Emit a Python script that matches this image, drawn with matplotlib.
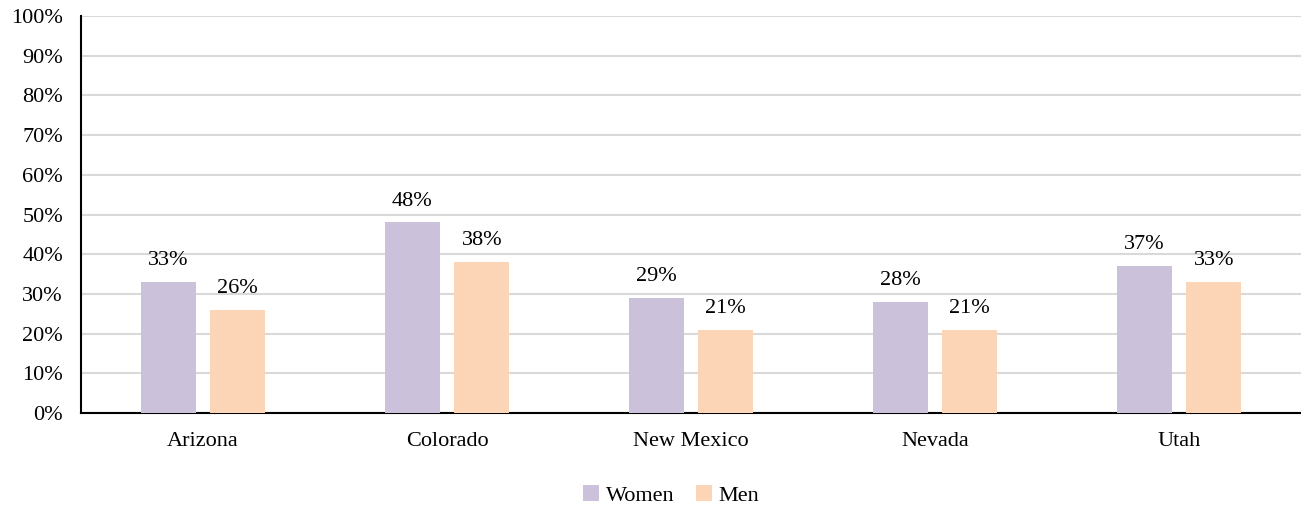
import numpy as np
import matplotlib
matplotlib.use("Agg")
import matplotlib.pyplot as plt

states = ["Arizona", "Colorado", "New Mexico", "Nevada", "Utah"]
women = [33, 48, 29, 28, 37]
men = [26, 38, 21, 21, 33]

plt.rcParams['font.family'] = ['Liberation Serif', 'DejaVu Serif']

fig = plt.figure(figsize=(13.01, 5.08), dpi=100)
ax = fig.add_axes([0.0623, 0.187, 0.9377, 0.7815])

x = np.arange(len(states))
w = 0.226
off = 0.1425
b1 = ax.bar(x - off, women, w, color='#CBC1DA', label='Women', zorder=3)
b2 = ax.bar(x + off, men, w, color='#FBD5B5', label='Men', zorder=3)

for bars, vals in [(b1, women), (b2, men)]:
    for r, v in zip(bars, vals):
        ax.text(r.get_x() + r.get_width() / 2, v + 3, f"{v}%", ha='center', va='bottom', fontsize=16)

ax.set_xlim(-0.5, len(states) - 0.5)
ax.set_ylim(0, 100)
ax.set_yticks(range(0, 101, 10))
ax.set_yticklabels([f"{t}%" for t in range(0, 101, 10)], fontsize=16)
ax.set_xticks(x)
ax.set_xticklabels(states, fontsize=16)
ax.tick_params(axis='y', length=0, pad=13)
ax.tick_params(axis='x', length=0, pad=14)
ax.grid(axis='y', color='#D9D9D9', linewidth=1.5, zorder=0)
for s in ['top', 'right']:
    ax.spines[s].set_visible(False)
ax.spines['left'].set_linewidth(1.5)
ax.spines['bottom'].set_linewidth(1.5)

fig.legend(loc='center', bbox_to_anchor=(0.516, 0.025), ncol=2, frameon=False, fontsize=16,
           handlelength=0.7, handleheight=0.7, handletextpad=0.3, columnspacing=1.0)

fig.savefig("out.png", dpi=100)
